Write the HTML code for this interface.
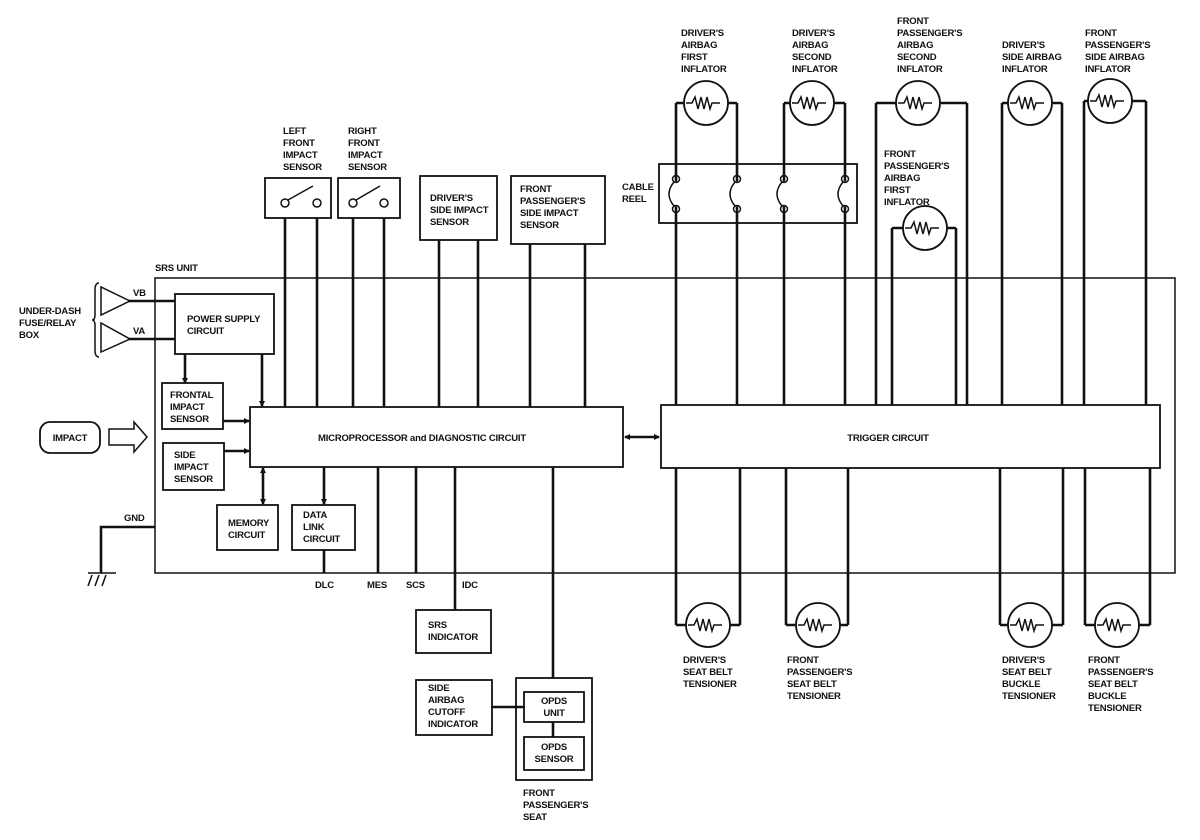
<!DOCTYPE html>
<html><head><meta charset="utf-8"><style>
html,body{margin:0;padding:0;background:#fff;}
svg{display:block;}
text{font-family:"Liberation Sans Narrow","Liberation Sans",sans-serif;font-weight:bold;font-size:9.5px;letter-spacing:-0.2px;fill:#111;}
.w{stroke:#111;stroke-width:2.6;fill:none;}
.b{stroke:#111;stroke-width:1.8;fill:#fff;}
.t{stroke:#111;stroke-width:1.5;fill:none;}
</style></head><body>
<svg width="1200" height="840" viewBox="0 0 1200 840" xmlns="http://www.w3.org/2000/svg">
<defs>
<marker id="ar" markerUnits="userSpaceOnUse" markerWidth="6" markerHeight="6" refX="5" refY="3" orient="auto"><path d="M0,0 L6,3 L0,6z" fill="#111"/></marker>
<marker id="al" markerUnits="userSpaceOnUse" markerWidth="6" markerHeight="6" refX="1" refY="3" orient="auto"><path d="M6,0 L0,3 L6,6z" fill="#111"/></marker>
</defs>

<rect x="155" y="278" width="1020" height="295" class="t" stroke-width="2"/>
<text x="155" y="271">SRS UNIT</text>

<g class="w">
<line x1="285" y1="205" x2="285" y2="407"/><line x1="317" y1="205" x2="317" y2="407"/>
<line x1="353" y1="205" x2="353" y2="407"/><line x1="384" y1="205" x2="384" y2="407"/>
<line x1="439" y1="240" x2="439" y2="407"/><line x1="478" y1="240" x2="478" y2="407"/>
<line x1="530" y1="244" x2="530" y2="407"/><line x1="585" y1="244" x2="585" y2="407"/>
</g>
<rect x="265" y="178" width="66" height="40" class="b"/>
<circle cx="285" cy="203" r="4" class="t" fill="#fff"/><circle cx="317" cy="203" r="4" class="t" fill="#fff"/>
<line x1="288" y1="200" x2="313" y2="186" class="t" stroke-width="2"/>
<text x="283" y="134">LEFT</text><text x="283" y="146">FRONT</text><text x="283" y="158">IMPACT</text><text x="283" y="170">SENSOR</text>
<rect x="338" y="178" width="62" height="40" class="b"/>
<circle cx="353" cy="203" r="4" class="t" fill="#fff"/><circle cx="384" cy="203" r="4" class="t" fill="#fff"/>
<line x1="356" y1="200" x2="380" y2="186" class="t" stroke-width="2"/>
<text x="348" y="134">RIGHT</text><text x="348" y="146">FRONT</text><text x="348" y="158">IMPACT</text><text x="348" y="170">SENSOR</text>
<rect x="420" y="176" width="77" height="64" class="b"/>
<text x="430" y="201">DRIVER'S</text><text x="430" y="213">SIDE IMPACT</text><text x="430" y="225">SENSOR</text>
<rect x="511" y="176" width="94" height="68" class="b"/>
<text x="520" y="192">FRONT</text><text x="520" y="204">PASSENGER'S</text><text x="520" y="216">SIDE IMPACT</text><text x="520" y="228">SENSOR</text>

<g class="w">
<line x1="676" y1="103" x2="676" y2="405"/><line x1="737" y1="103" x2="737" y2="405"/>
<line x1="784" y1="103" x2="784" y2="405"/><line x1="845" y1="103" x2="845" y2="405"/>
<line x1="876" y1="103" x2="876" y2="405"/><line x1="967" y1="103" x2="967" y2="405"/>
<line x1="892" y1="228" x2="892" y2="405"/><line x1="956" y1="228" x2="956" y2="405"/>
<line x1="1002" y1="103" x2="1002" y2="405"/><line x1="1062" y1="103" x2="1062" y2="405"/>
<line x1="1084" y1="101" x2="1084" y2="405"/><line x1="1146" y1="101" x2="1146" y2="405"/>
<line x1="676" y1="103" x2="737" y2="103"/><line x1="784" y1="103" x2="845" y2="103"/>
<line x1="876" y1="103" x2="967" y2="103"/><line x1="892" y1="228" x2="956" y2="228"/>
<line x1="1002" y1="103" x2="1062" y2="103"/><line x1="1084" y1="101" x2="1146" y2="101"/>
<line x1="676" y1="467" x2="676" y2="625"/><line x1="740" y1="467" x2="740" y2="625"/>
<line x1="786" y1="467" x2="786" y2="625"/><line x1="848" y1="467" x2="848" y2="625"/>
<line x1="1000" y1="467" x2="1000" y2="625"/><line x1="1063" y1="467" x2="1063" y2="625"/>
<line x1="1085" y1="467" x2="1085" y2="625"/><line x1="1150" y1="467" x2="1150" y2="625"/>
<line x1="676" y1="625" x2="740" y2="625"/><line x1="786" y1="625" x2="848" y2="625"/>
<line x1="1000" y1="625" x2="1063" y2="625"/><line x1="1085" y1="625" x2="1150" y2="625"/>
</g>
<g>
<circle cx="706" cy="103" r="22" class="b"/><circle cx="812" cy="103" r="22" class="b"/>
<circle cx="918" cy="103" r="22" class="b"/><circle cx="925" cy="228" r="22" class="b"/>
<circle cx="1030" cy="103" r="22" class="b"/><circle cx="1110" cy="101" r="22" class="b"/>
<circle cx="708" cy="625" r="22" class="b"/><circle cx="818" cy="625" r="22" class="b"/>
<circle cx="1030" cy="625" r="22" class="b"/><circle cx="1117" cy="625" r="22" class="b"/>
</g>
<g class="t" stroke-width="1.6">
<path d="M686,103 h6 l3,-6 l3,12 l3,-12 l3,12 l3,-12 l3,12 l2,-6 h8"/>
<path d="M792,103 h6 l3,-6 l3,12 l3,-12 l3,12 l3,-12 l3,12 l2,-6 h8"/>
<path d="M898,103 h6 l3,-6 l3,12 l3,-12 l3,12 l3,-12 l3,12 l2,-6 h8"/>
<path d="M905,228 h6 l3,-6 l3,12 l3,-12 l3,12 l3,-12 l3,12 l2,-6 h8"/>
<path d="M1010,103 h6 l3,-6 l3,12 l3,-12 l3,12 l3,-12 l3,12 l2,-6 h8"/>
<path d="M1090,101 h6 l3,-6 l3,12 l3,-12 l3,12 l3,-12 l3,12 l2,-6 h8"/>
<path d="M688,625 h6 l3,-6 l3,12 l3,-12 l3,12 l3,-12 l3,12 l2,-6 h8"/>
<path d="M798,625 h6 l3,-6 l3,12 l3,-12 l3,12 l3,-12 l3,12 l2,-6 h8"/>
<path d="M1010,625 h6 l3,-6 l3,12 l3,-12 l3,12 l3,-12 l3,12 l2,-6 h8"/>
<path d="M1097,625 h6 l3,-6 l3,12 l3,-12 l3,12 l3,-12 l3,12 l2,-6 h8"/>
</g>

<rect x="659" y="164" width="198" height="59" class="b" fill="none"/>
<g class="w"><line x1="676" y1="164" x2="676" y2="223"/><line x1="737" y1="164" x2="737" y2="223"/><line x1="784" y1="164" x2="784" y2="223"/><line x1="845" y1="164" x2="845" y2="223"/></g>
<g fill="#fff" stroke="#fff"><rect x="670" y="182" width="12" height="24"/><rect x="731" y="182" width="12" height="24"/><rect x="778" y="182" width="12" height="24"/><rect x="839" y="182" width="12" height="24"/></g>
<g class="t">
<path d="M674,182 Q664,194 674,206"/><path d="M735,182 Q725,194 735,206"/><path d="M782,182 Q772,194 782,206"/><path d="M843,182 Q833,194 843,206"/>
</g>
<g class="t" fill="#fff">
<circle cx="676" cy="179" r="3.5"/><circle cx="676" cy="209" r="3.5"/>
<circle cx="737" cy="179" r="3.5"/><circle cx="737" cy="209" r="3.5"/>
<circle cx="784" cy="179" r="3.5"/><circle cx="784" cy="209" r="3.5"/>
<circle cx="845" cy="179" r="3.5"/><circle cx="845" cy="209" r="3.5"/>
</g>
<text x="622" y="190">CABLE</text><text x="622" y="202">REEL</text>

<text x="681" y="36">DRIVER'S</text><text x="681" y="48">AIRBAG</text><text x="681" y="60">FIRST</text><text x="681" y="72">INFLATOR</text>
<text x="792" y="36">DRIVER'S</text><text x="792" y="48">AIRBAG</text><text x="792" y="60">SECOND</text><text x="792" y="72">INFLATOR</text>
<text x="897" y="24">FRONT</text><text x="897" y="36">PASSENGER'S</text><text x="897" y="48">AIRBAG</text><text x="897" y="60">SECOND</text><text x="897" y="72">INFLATOR</text>
<text x="1002" y="48">DRIVER'S</text><text x="1002" y="60">SIDE AIRBAG</text><text x="1002" y="72">INFLATOR</text>
<text x="1085" y="36">FRONT</text><text x="1085" y="48">PASSENGER'S</text><text x="1085" y="60">SIDE AIRBAG</text><text x="1085" y="72">INFLATOR</text>
<text x="884" y="157">FRONT</text><text x="884" y="169">PASSENGER'S</text><text x="884" y="181">AIRBAG</text><text x="884" y="193">FIRST</text><text x="884" y="205">INFLATOR</text>

<text x="683" y="663">DRIVER'S</text><text x="683" y="675">SEAT BELT</text><text x="683" y="687">TENSIONER</text>
<text x="787" y="663">FRONT</text><text x="787" y="675">PASSENGER'S</text><text x="787" y="687">SEAT BELT</text><text x="787" y="699">TENSIONER</text>
<text x="1002" y="663">DRIVER'S</text><text x="1002" y="675">SEAT BELT</text><text x="1002" y="687">BUCKLE</text><text x="1002" y="699">TENSIONER</text>
<text x="1088" y="663">FRONT</text><text x="1088" y="675">PASSENGER'S</text><text x="1088" y="687">SEAT BELT</text><text x="1088" y="699">BUCKLE</text><text x="1088" y="711">TENSIONER</text>

<rect x="661" y="405" width="499" height="63" class="b"/>
<text x="888" y="441" text-anchor="middle">TRIGGER CIRCUIT</text>
<rect x="250" y="407" width="373" height="60" class="b"/>
<text x="422" y="441" text-anchor="middle">MICROPROCESSOR and DIAGNOSTIC CIRCUIT</text>
<line x1="625" y1="437" x2="659" y2="437" class="w" stroke-width="2" marker-start="url(#al)" marker-end="url(#ar)"/>

<rect x="175" y="294" width="99" height="60" class="b"/>
<text x="187" y="322">POWER SUPPLY</text><text x="187" y="334">CIRCUIT</text>
<g class="w">
<line x1="128" y1="301" x2="175" y2="301"/><line x1="128" y1="339" x2="175" y2="339"/>
</g>
<path d="M101,287 L101,315 L130,301z" class="t" fill="#fff"/>
<path d="M101,323 L101,352 L130,339z" class="t" fill="#fff"/>
<path d="M99,283 Q95,283 95,290 L95,315 Q95,320 92,320 Q95,320 95,325 L95,350 Q95,357 99,357" class="t" stroke-width="1"/>
<text x="133" y="296">VB</text><text x="133" y="334">VA</text>
<text x="19" y="314">UNDER-DASH</text><text x="19" y="326">FUSE/RELAY</text><text x="19" y="338">BOX</text>
<line x1="185" y1="354" x2="185" y2="383" class="w" stroke-width="2" marker-end="url(#ar)"/>
<line x1="262" y1="354" x2="262" y2="406" class="w" stroke-width="2" marker-end="url(#ar)"/>

<rect x="162" y="383" width="61" height="46" class="b"/>
<text x="170" y="398">FRONTAL</text><text x="170" y="410">IMPACT</text><text x="170" y="422">SENSOR</text>
<rect x="163" y="443" width="61" height="47" class="b"/>
<text x="174" y="458">SIDE</text><text x="174" y="470">IMPACT</text><text x="174" y="482">SENSOR</text>
<line x1="223" y1="421" x2="249" y2="421" class="w" stroke-width="2" marker-end="url(#ar)"/>
<line x1="224" y1="451" x2="249" y2="451" class="w" stroke-width="2" marker-end="url(#ar)"/>

<rect x="40" y="422" width="60" height="31" rx="10" class="b"/>
<text x="70" y="441" text-anchor="middle">IMPACT</text>
<path d="M109,429 H134 V422 L147,437 L134,452 V445 H109z" class="t" fill="#fff" stroke-width="1.3"/>

<rect x="217" y="505" width="61" height="45" class="b"/>
<text x="228" y="526">MEMORY</text><text x="228" y="538">CIRCUIT</text>
<line x1="263" y1="468" x2="263" y2="504" class="w" stroke-width="2" marker-start="url(#al)" marker-end="url(#ar)"/>
<rect x="292" y="505" width="63" height="45" class="b"/>
<text x="303" y="518">DATA</text><text x="303" y="530">LINK</text><text x="303" y="542">CIRCUIT</text>
<line x1="324" y1="467" x2="324" y2="504" class="w" stroke-width="2" marker-end="url(#ar)"/>
<line x1="324" y1="550" x2="324" y2="573" class="w" stroke-width="2"/>
<line x1="378" y1="467" x2="378" y2="573" class="w" stroke-width="2"/>
<line x1="416" y1="467" x2="416" y2="573" class="w" stroke-width="2"/>
<line x1="455" y1="467" x2="455" y2="610" class="w" stroke-width="2"/>
<line x1="553" y1="467" x2="553" y2="678" class="w" stroke-width="2"/>
<text x="315" y="588">DLC</text><text x="367" y="588">MES</text><text x="406" y="588">SCS</text><text x="462" y="588">IDC</text>

<path d="M155,527 H101 V573" class="w"/>
<line x1="88" y1="573" x2="116" y2="573" class="t"/>
<g class="t" stroke-width="1"><line x1="92" y1="575" x2="88" y2="586"/><line x1="99" y1="575" x2="95" y2="586"/><line x1="106" y1="575" x2="102" y2="586"/></g>
<text x="124" y="521">GND</text>

<rect x="416" y="610" width="75" height="43" class="b"/>
<text x="428" y="628">SRS</text><text x="428" y="640">INDICATOR</text>
<rect x="416" y="680" width="76" height="55" class="b"/>
<text x="428" y="691">SIDE</text><text x="428" y="703">AIRBAG</text><text x="428" y="715">CUTOFF</text><text x="428" y="727">INDICATOR</text>
<rect x="516" y="678" width="76" height="102" class="b"/>
<rect x="524" y="692" width="60" height="30" class="b"/>
<text x="554" y="704" text-anchor="middle">OPDS</text><text x="554" y="716" text-anchor="middle">UNIT</text>
<rect x="524" y="737" width="60" height="33" class="b"/>
<text x="554" y="750" text-anchor="middle">OPDS</text><text x="554" y="762" text-anchor="middle">SENSOR</text>
<line x1="492" y1="707" x2="524" y2="707" class="w"/>
<line x1="553" y1="722" x2="553" y2="737" class="w" stroke-width="2"/>
<text x="523" y="796">FRONT</text><text x="523" y="808">PASSENGER'S</text><text x="523" y="820">SEAT</text>
</svg>
</body></html>
